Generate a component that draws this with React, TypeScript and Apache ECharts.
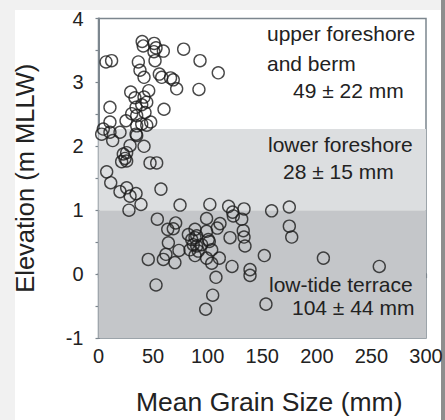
import React, { useEffect, useRef } from "react";
import * as echarts from "echarts";

// Mean grain size (mm) and elevation (m MLLW) for each sample
const grainSize: number[] = [
  6.9, 12, 40, 41, 51, 52.7, 50.8, 59.4, 78, 93, 109.7, 36.5, 38, 41.7, 51.8, 55.7, 57.9, 66, 68.5, 71.6,
  92, 29.5, 46, 33.4, 41.7, 44.2, 39.6, 34.4, 60, 10.5, 30.4, 35, 42.6, 25.2, 10.5, 35, 39.6, 44.2, 47.8, 4.4,
  2.9, 10.5, 19.7, 13, 34.4, 35, 41.7, 28.9, 25.8, 22.7, 24.3, 21.2, 25.8, 47.2, 53.3, 7.5, 11.2, 19.7, 25.8, 28.9,
  34.4, 38.9, 27.9, 57.2, 74.7, 102, 119.2, 122.9, 123.5, 133.3, 158.6, 174.8, 174.8, 177, 53.9, 63.4, 68.5, 70.7, 64, 61.8,
  73.7, 70, 59.4, 45.6, 52.7, 82.3, 88.4, 85.4, 88.4, 86.8, 90, 83.8, 91.4, 88.4, 94.5, 99, 99, 111.3, 108.8, 100.6,
  103.7, 99, 110.7, 103.7, 107.6, 104.6, 98.2, 131.2, 132.6, 133.3, 134.2, 120.5, 122.3, 138.8, 138.8, 151.9, 153.4, 206, 257.2, 90,
  101.5,
];
const elevation: number[] = [
  3.32, 3.34, 3.64, 3.57, 3.61, 3.54, 3.48, 3.49, 3.52, 3.34, 3.15, 3.32, 3.19, 3.08, 3.34, 3.13, 3.08, 3.07, 3.04, 2.9,
  2.89, 2.85, 2.87, 2.76, 2.77, 2.69, 2.65, 2.61, 2.58, 2.61, 2.51, 2.48, 2.53, 2.4, 2.38, 2.32, 2.35, 2.33, 2.38, 2.27,
  2.19, 2.22, 2.22, 2.09, 2.19, 2.17, 2.0, 2.01, 1.9, 1.88, 1.81, 1.76, 1.77, 1.74, 1.74, 1.6, 1.43, 1.29, 1.35, 1.22,
  1.26, 1.09, 1.0, 1.33, 1.08, 1.09, 1.06, 0.97, 0.91, 1.02, 0.99, 1.05, 0.75, 0.58, 0.86, 0.7, 0.71, 0.8, 0.49, 0.31,
  0.37, 0.18, 0.23, 0.23, -0.17, 0.62, 0.7, 0.54, 0.57, 0.46, 0.44, 0.38, 0.36, 0.29, 0.46, 0.87, 0.67, 0.79, 0.72, 0.54,
  0.38, 0.25, 0.25, 0.17, -0.05, -0.33, -0.55, 0.86, 0.68, 0.58, 0.44, 0.57, 0.12, 0.07, -0.02, 0.29, -0.47, 0.25, 0.12, 0.6,
  0.51,
];

// Zones: [lower bound, upper bound] of elevation
const zoneLowTide: number[] = [-1, 1];
const zoneLowerForeshore: number[] = [1, 2.27];

const xTicks = { min: 0, max: 300, interval: 50 };
const yTicks = { min: -1, max: 4, interval: 1 };

const zoneLabels: string[][] = [
  ["upper foreshore", "and berm", "49 ± 22 mm"],
  ["lower foreshore", "28 ± 15 mm"],
  ["low-tide terrace", "104 ± 44 mm"],
];

export default function App() {
  const ref = useRef<HTMLDivElement>(null);

  useEffect(() => {
    if (!ref.current) return;
    const chart = echarts.init(ref.current, undefined, { renderer: "svg" });
    const font = "'Liberation Sans', Arial, Helvetica, sans-serif";
    const data = grainSize.map((g, i) => [g, elevation[i]]);
    const labelStyle = { fontSize: 21, fontFamily: font, fill: "#222" };
    const txt = (s: string, x: number, y: number) => ({
      type: "text",
      x,
      y,
      style: { ...labelStyle, text: s, textVerticalAlign: "middle", verticalAlign: "middle" },
      z: 100,
    });

    chart.setOption({
      animation: false,
      backgroundColor: "transparent",
      grid: {
        left: 98.5,
        top: 18.5,
        right: 19,
        bottom: 82,
        show: true,
        borderColor: "#7c868e",
        borderWidth: 1.5,
        backgroundColor: "transparent",
        containLabel: false,
        outerBoundsMode: "none",
      },
      xAxis: {
        type: "value",
        min: xTicks.min,
        max: xTicks.max,
        interval: xTicks.interval,
        name: "Mean Grain Size (mm)",
        nameLocation: "middle",
        nameGap: 50,
        nameTextStyle: { fontSize: 26.5, fontFamily: font, color: "#222", padding: [0, 0, 0, 14] },
        axisLine: { show: true, lineStyle: { color: "#7c868e", width: 2 } },
        axisTick: { show: true, length: 4, lineStyle: { color: "#7c868e", width: 1.2 } },
        axisLabel: { fontSize: 20, fontFamily: font, color: "#222", margin: 8 },
        splitLine: { show: false },
      },
      yAxis: {
        type: "value",
        min: yTicks.min,
        max: yTicks.max,
        interval: yTicks.interval,
        name: "Elevation (m MLLW)",
        nameLocation: "middle",
        nameRotate: 90,
        nameGap: 61,
        nameTextStyle: { fontSize: 25.5, fontFamily: font, color: "#222" },
        axisLine: { show: true, lineStyle: { color: "#7c868e", width: 2 } },
        axisTick: { show: true, length: 3, lineStyle: { color: "#7c868e", width: 1.2 } },
        minorTick: { show: true, splitNumber: 2, length: 3, lineStyle: { color: "#7c868e", width: 1.2 } },
        axisLabel: { fontSize: 20, fontFamily: font, color: "#222", margin: 15 },
        splitLine: { show: false },
      },
      series: [
        {
          type: "scatter",
          data,
          symbol: "circle",
          symbolSize: 12,
          itemStyle: { color: "rgba(0,0,0,0)", borderColor: "#1c1c1c", borderWidth: 1.4 },
          z: 5,
          markArea: {
            silent: true,
            z: 1,
            data: [
              [
                { yAxis: zoneLowTide[0], itemStyle: { color: "#c4c6c9" } },
                { yAxis: zoneLowTide[1] },
              ],
              [
                { yAxis: zoneLowerForeshore[0], itemStyle: { color: "#dcdee0" } },
                { yAxis: zoneLowerForeshore[1] },
              ],
            ],
          },
        },
      ],
      graphic: [
        txt(zoneLabels[0][0], 267, 33),
        txt(zoneLabels[0][1], 267, 63),
        txt(zoneLabels[0][2], 293, 90),
        txt(zoneLabels[1][0], 268, 144),
        txt(zoneLabels[1][1], 283, 171),
        txt(zoneLabels[2][0], 269, 284),
        txt(zoneLabels[2][1], 292, 307),
      ],
    });
    return () => chart.dispose();
  }, []);

  return (
    <div style={{ position: "absolute", left: 0, top: 0, width: 445, height: 420, background: "#f1f1f1", overflow: "hidden" }}>
      <div style={{ position: "absolute", left: 15, top: 10, width: 426, height: 410, background: "#ffffff" }} />
      <div style={{ position: "absolute", left: 441, top: 0, width: 4, height: 420, background: "#8e8e8e" }} />
      <div ref={ref} style={{ position: "absolute", left: 0, top: 0, width: 445, height: 420 }} />
    </div>
  );
}
